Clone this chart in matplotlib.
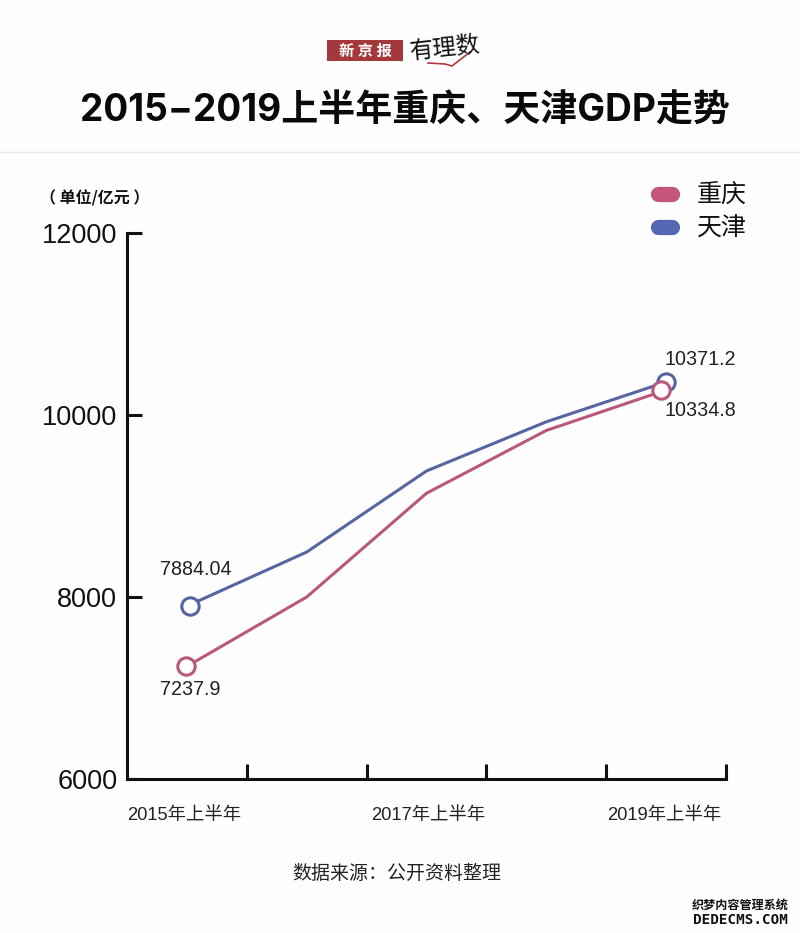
import matplotlib
matplotlib.use('Agg')
import matplotlib.pyplot as plt
from matplotlib.lines import Line2D
from matplotlib.patches import Rectangle

W, H = 800, 933
FONT = ['Liberation Sans', 'Noto Sans CJK SC', 'DejaVu Sans']
CJK = ['Noto Sans CJK SC', 'DejaVu Sans']
plt.rcParams['font.family'] = FONT

# values
periods = ['2015', '2016', '2017', '2018', '2019']
shown_labels = ['2015年上半年', '2017年上半年', '2019年上半年']
shown_idx = [0, 2, 4]
chongqing = [7238, 8000, 9140, 9830, 10275]
tianjin = [7900, 8494, 9385, 9925, 10363]
chongqing_ends = ['7237.9', '10334.8']
tianjin_ends = ['7884.04', '10371.2']
y_ticks = [6000, 8000, 10000, 12000]

PINK = '#B9587C'
BLUE = '#56659F'
INK = '#111111'
LABEL_NUDGE = [-0.025, 0.012, -0.018]


def fx(px):
    return px / W


def fy(px):
    return 1 - px / H


def label(x, y, s, **kw):
    kw.setdefault('va', 'center')
    kw.setdefault('ha', 'left')
    kw.setdefault('color', INK)
    fig.text(fx(x), fy(y), s, **kw)


fig = plt.figure(figsize=(W / 100, H / 100), dpi=100, facecolor='#FEFEFE')

# header
fig.add_artist(Rectangle((fx(327), fy(61)), 76 / W, 21 / H, transform=fig.transFigure,
                         facecolor='#A5383C', edgecolor='none'))
label(365, 50.5, '新 京 报', ha='center', color='white', fontsize=11, fontweight='bold', family=CJK)
fig.add_artist(Line2D([fx(428), fx(445), fx(452), fx(470)], [fy(63), fy(64), fy(66), fy(52)],
                      color='#B23A3E', lw=1.2))
label(444, 49, '有理数', ha='center', color='#111111', fontsize=17, rotation=6, family=CJK)
label(404.5, 112, '2015−2019上半年重庆、天津GDP走势', ha='center', fontsize=26.65,
      fontweight='bold', color='#0A0A0A', family=['Inter', 'Noto Sans CJK SC'])
fig.add_artist(Line2D([0, 1], [fy(152), fy(152)], color='#E8E8E8', lw=1))

# main chart
ax = fig.add_axes([fx(127), fy(779), 599 / W, 546 / H])
ax.set_facecolor('none')
x = list(range(len(periods)))
ax.plot(x, chongqing, color=PINK, lw=2.2, solid_joinstyle='round', zorder=2)
ax.plot(x, tianjin, color=BLUE, lw=2.2, solid_joinstyle='round', zorder=2)

# only the two end points carry markers, nudged a little as in the original
ax.plot([x[0] + 0.025, x[-1] - 0.004], [tianjin[0], tianjin[-1]], 'o', ms=12.5, mfc='white',
        mec=BLUE, mew=2.2, zorder=3)
ax.plot([x[0] - 0.008, x[-1] - 0.045], [chongqing[0], chongqing[-1]], 'o', ms=12.5, mfc='white',
        mec=PINK, mew=2.2, zorder=4)

ax.set_xlim(-0.5, 4.5)
ax.set_ylim(6000, 12000)
for side in ['top', 'right']:
    ax.spines[side].set_visible(False)
for side in ['left', 'bottom']:
    ax.spines[side].set_linewidth(2.2)
    ax.spines[side].set_color(INK)

ax.set_yticks(y_ticks)
ax.tick_params(axis='y', direction='in', length=11, width=2.2, color=INK, labelsize=19.5,
               labelcolor=INK, pad=7)
ax.set_xticks([i + n for i, n in zip(shown_idx, LABEL_NUDGE)], shown_labels)
ax.set_xticks([i + 0.5 for i in x], minor=True)
ax.tick_params(axis='x', which='major', length=0, labelsize=13.2, labelcolor='#222222', pad=20)
ax.tick_params(axis='x', which='minor', direction='in', length=10.5, width=2.2, color=INK)

ax.annotate(tianjin_ends[0], (x[0], tianjin[0]), xytext=(-27, 37), textcoords='offset pixels',
            fontsize=14.2, color='#222222', va='center')
ax.annotate(chongqing_ends[0], (x[0], chongqing[0]), xytext=(-27, -23), textcoords='offset pixels',
            fontsize=14.2, color='#222222', va='center')
ax.annotate(tianjin_ends[1], (x[-1], tianjin[-1]), xytext=(-2, 22), textcoords='offset pixels',
            fontsize=14.2, color='#222222', va='center')
ax.annotate(chongqing_ends[1], (x[-1], chongqing[-1]), xytext=(-2, -21), textcoords='offset pixels',
            fontsize=14.2, color='#222222', va='center')

# legend pills and unit
fig.add_artist(Line2D([fx(658), fx(671.5)], [fy(194), fy(194)], color='#C4557B', lw=11,
                      solid_capstyle='round'))
fig.add_artist(Line2D([fx(658), fx(671.5)], [fy(227), fy(227)], color='#5467B5', lw=11,
                      solid_capstyle='round'))
label(697, 195, '重庆', fontsize=18, family=CJK)
label(697, 229, '天津', fontsize=18, family=CJK)
label(95, 198, '（ 单位/亿元 ）', ha='center', fontsize=11.5, fontweight='bold', family=CJK)

# footer
label(396.5, 873, '数据来源：公开资料整理', ha='center', fontsize=13.7, color='#222222', family=CJK)
label(740, 905, '织梦内容管理系统', ha='center', fontsize=8.7, fontweight='bold', color='#111111', family=CJK)
label(740, 920, 'DEDECMS.COM', ha='center', fontsize=10.3, fontweight='bold', color='#111111',
      family='DejaVu Sans Mono')

fig.savefig('out.png', dpi=100, facecolor=fig.get_facecolor())
